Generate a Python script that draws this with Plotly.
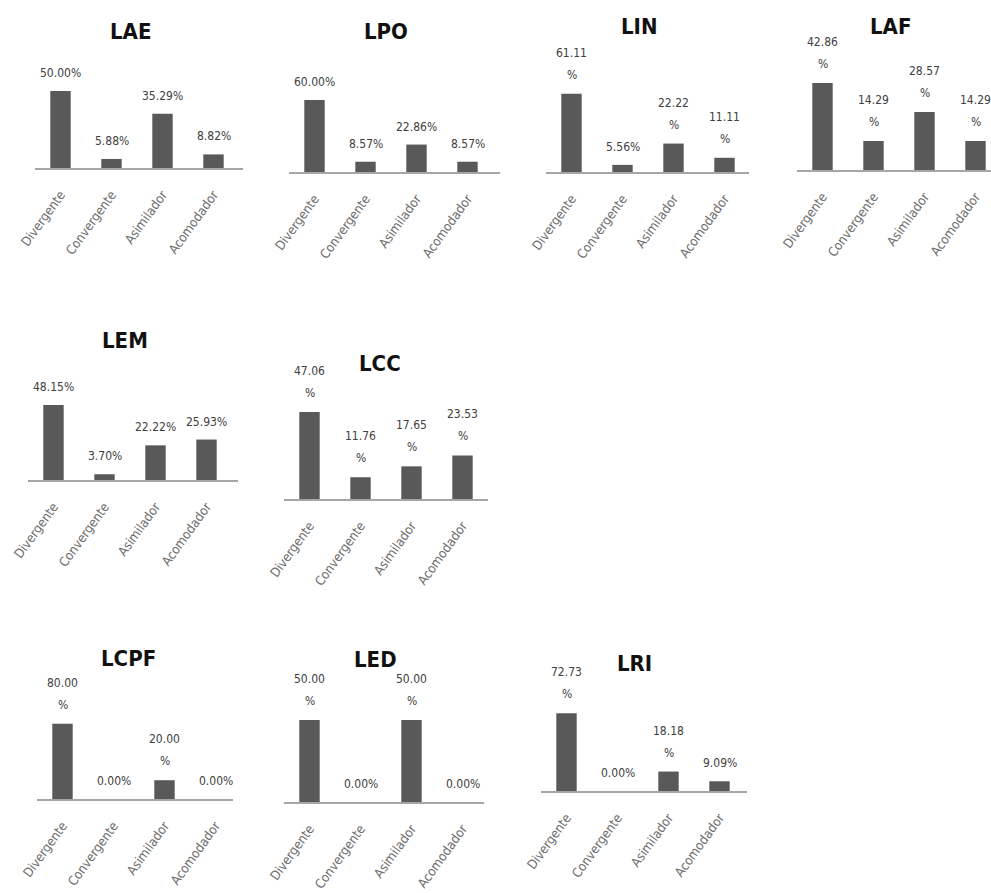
import plotly.graph_objects as go

# Learning-style distribution per group
categories = ["Divergente", "Convergente", "Asimilador", "Acomodador"]
groups = ["LAE", "LPO", "LIN", "LAF", "LEM", "LCC", "LCPF", "LED", "LRI"]

lae = [50.00, 5.88, 35.29, 8.82]
lpo = [60.00, 8.57, 22.86, 8.57]
lin = [61.11, 5.56, 22.22, 11.11]
laf = [42.86, 14.29, 28.57, 14.29]
lem = [48.15, 3.70, 22.22, 25.93]
lcc = [47.06, 11.76, 17.65, 23.53]
lcpf = [80.00, 0.00, 20.00, 0.00]
led = [50.00, 0.00, 50.00, 0.00]
lri = [72.73, 0.00, 18.18, 9.09]

series = [lae, lpo, lin, laf, lem, lcc, lcpf, led, lri]

# Panel geometry in pixels: axis left, axis right, baseline y, px per %, title x, title y,
# and whether two-digit labels break onto a second line
W, H = 991, 893
panels = [
    (35, 243, 168, 1.54, 130, 32, False),
    (289, 500, 172, 1.20, 386, 32, False),
    (546, 749, 172, 1.28, 639, 27, True),
    (797, 991, 170, 2.03, 890, 27, True),
    (28, 238, 480, 1.56, 125, 340, False),
    (284, 488, 499, 1.85, 380, 363, True),
    (37, 233, 799, 0.94, 128, 658, True),
    (284, 484, 802, 1.64, 375, 659, True),
    (541, 747, 791, 1.07, 634, 663, True),
]

BAR = "#595959"
AXIS = "#a6a6a6"
TXT = "#404040"
FONT = "DejaVu Sans Condensed, Liberation Sans Narrow, Liberation Sans, Arial, sans-serif"
PANEL_H = 130  # plotting height above baseline, px
SLOT = 51      # px per category

fig = go.Figure()
annotations = []
layout = {}

for i, (name, vals, geo) in enumerate(zip(groups, series, panels), start=1):
    x0, x1, base, scale, tx, ty, wrap = geo
    xa = "x" if i == 1 else f"x{i}"
    ya = "y" if i == 1 else f"y{i}"
    fig.add_trace(go.Bar(
        x=categories, y=vals, xaxis=xa, yaxis=ya, width=0.4,
        marker=dict(color=BAR, line=dict(width=0)),
        showlegend=False, hoverinfo="x+y",
    ))
    xr = [-0.5, -0.5 + (x1 - x0) / SLOT]
    layout[f"xaxis{'' if i == 1 else i}"] = dict(
        domain=[x0 / W, x1 / W], anchor=ya, range=xr, automargin=False,
        showline=True, linecolor=AXIS, linewidth=2, showgrid=False, zeroline=False,
        ticks="", tickangle=-54, ticklabelstandoff=12,
        tickfont=dict(family=FONT, size=13, color="#6e6e6e"),
        fixedrange=True,
    )
    layout[f"yaxis{'' if i == 1 else i}"] = dict(
        domain=[1 - base / H, 1 - (base - PANEL_H) / H], anchor=xa,
        range=[0, PANEL_H / scale], visible=False, fixedrange=True, automargin=False,
    )
    for c, v in zip(categories, vals):
        num = f"{v:.2f}"
        common = dict(x=c, y=v, xref=xa, yref=ya, showarrow=False,
                      yanchor="middle", xanchor="center",
                      font=dict(family=FONT, size=12, color=TXT))
        if wrap and v >= 10:
            annotations.append(dict(text=num, yshift=41, **common))
            annotations.append(dict(text="%", yshift=19, **common))
        else:
            annotations.append(dict(text=num + "%", yshift=18, **common))
    annotations.append(dict(
        text=f"<b>{name}</b>", x=tx / W, y=1 - ty / H, xref="paper", yref="paper",
        showarrow=False, xanchor="center", yanchor="middle",
        font=dict(family=FONT, size=22, color="#111111"),
    ))

fig.update_layout(
    width=W, height=H, margin=dict(l=0, r=0, t=0, b=0, autoexpand=False),
    paper_bgcolor="white", plot_bgcolor="white",
    bargap=0.6, annotations=annotations, **layout,
)

fig.write_html("out.html")
